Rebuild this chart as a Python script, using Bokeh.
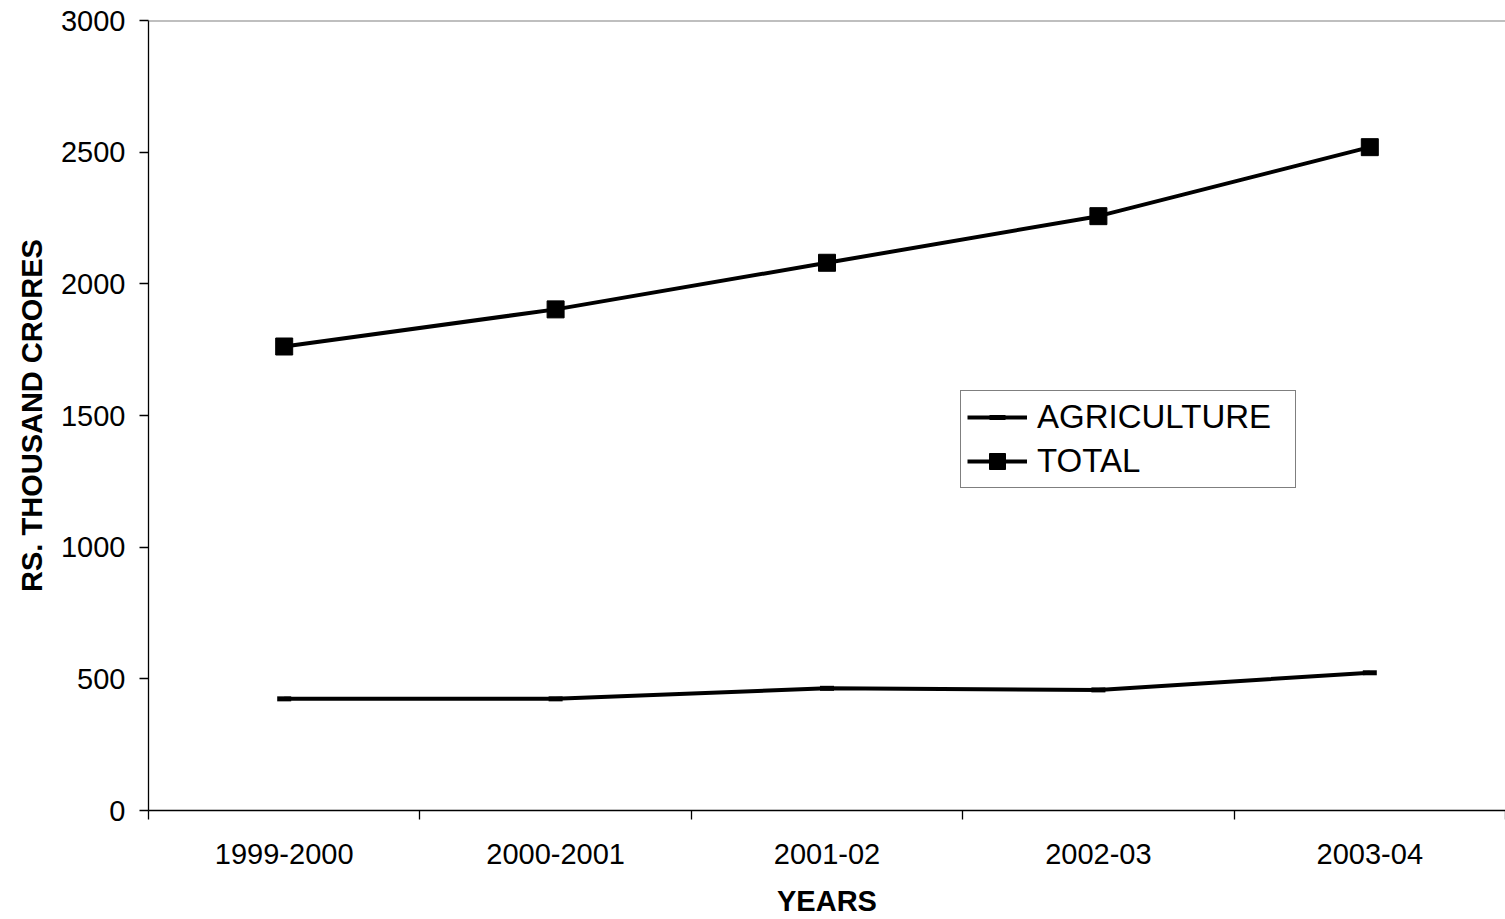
from bokeh.plotting import figure
from bokeh.models import Range1d, FixedTicker, Span, Legend, LegendItem
from bokeh.embed import file_html
from bokeh.resources import INLINE

years = ["1999-2000", "2000-2001", "2001-02", "2002-03", "2003-04"]
agriculture = [424, 424, 464, 458, 523]
total = [1762, 1903, 2080, 2257, 2519]
y_ticks = [0, 500, 1000, 1500, 2000, 2500, 3000]

FONT = "Liberation Sans"

# category slots: each category is centred in a unit-wide slot
xpos = [i + 0.5 for i in range(len(years))]

p = figure(
    x_range=Range1d(0, len(years)),
    y_range=Range1d(0, 3000),
    width=1505,
    height=919,
    output_backend="svg",
    toolbar_location=None,
    min_border_left=148,
    min_border_right=0,
    min_border_top=20,
    min_border_bottom=109,
)
p.outline_line_color = None
p.xgrid.visible = False
p.ygrid.visible = False
p.background_fill_color = "white"
p.border_fill_color = "white"

# top border (gray)
p.add_layout(Span(location=3000, dimension="width", line_color="#808080", line_width=2))

for ax in (p.xaxis[0], p.yaxis[0]):
    ax.axis_line_color = "black"
    ax.axis_line_width = 1.3
    ax.major_tick_line_color = "black"
    ax.major_tick_line_width = 1.3
    ax.major_tick_out = 9
    ax.major_tick_in = 0
    ax.minor_tick_line_color = None
    ax.major_label_text_font = FONT
    ax.major_label_text_font_size = "29px"
    ax.major_label_text_color = "black"
    ax.axis_label_text_font = FONT
    ax.axis_label_text_font_size = "29px"
    ax.axis_label_text_font_style = "bold"
    ax.axis_label_text_color = "black"

p.yaxis[0].ticker = FixedTicker(ticks=y_ticks)
p.yaxis[0].major_label_standoff = 14
p.yaxis[0].axis_label = "RS. THOUSAND CRORES"
p.yaxis[0].axis_label_standoff = 10

xa = p.xaxis[0]
xa.ticker = FixedTicker(ticks=xpos, minor_ticks=list(range(len(years) + 1)))
xa.major_label_overrides = {x: y for x, y in zip(xpos, years)}
xa.major_tick_line_color = None
xa.minor_tick_line_color = "black"
xa.minor_tick_line_width = 1.3
xa.minor_tick_out = 9
xa.minor_tick_in = 0
xa.axis_label = "YEARS"
xa.major_label_standoff = 24
xa.axis_label_standoff = 18

l1 = p.line(xpos, agriculture, line_color="black", line_width=4)
m1 = p.scatter(xpos, agriculture, marker="dash", size=14, line_color="black", line_width=5)
l2 = p.line(xpos, total, line_color="black", line_width=4)
m2 = p.scatter(xpos, total, marker="square", size=17, fill_color="black", line_color="black")

legend = Legend(
    items=[LegendItem(label="AGRICULTURE", renderers=[l1, m1]),
           LegendItem(label="TOTAL", renderers=[l2, m2])],
    location=(812, 322),
    label_text_font=FONT,
    label_text_font_size="33px",
    label_text_color="black",
    glyph_width=60,
    glyph_height=40,
    label_height=40,
    label_width=252,
    label_standoff=10,
    spacing=4,
    padding=6,
    margin=0,
    border_line_color="black",
    border_line_width=1.3,
    background_fill_color="white",
    background_fill_alpha=1,
)
p.add_layout(legend, "center")

open("out.html", "w").write(file_html(p, INLINE))
